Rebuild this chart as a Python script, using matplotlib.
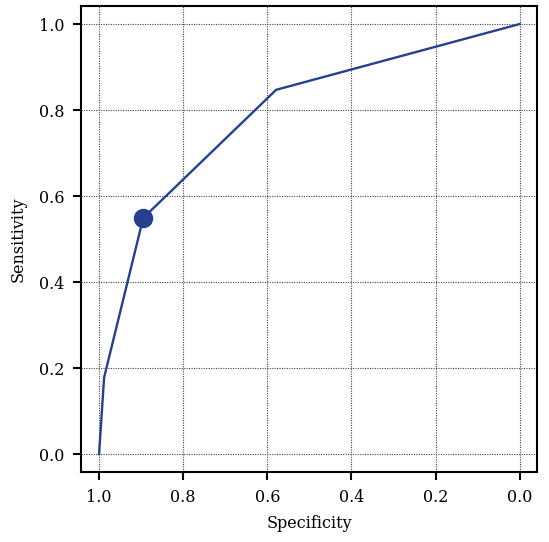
import matplotlib
matplotlib.use("Agg")
import matplotlib.pyplot as plt

specificity = [1.0, 0.988, 0.895, 0.579, 0.0]
sensitivity = [0.0, 0.178, 0.549, 0.847, 1.0]
best_spec = [0.895]
best_sens = [0.549]
ticks = [0.0, 0.2, 0.4, 0.6, 0.8, 1.0]
tick_labels = ["0.0", "0.2", "0.4", "0.6", "0.8", "1.0"]

plt.rcParams['font.family'] = ['DejaVu Serif']

fig = plt.figure(figsize=(5.49, 5.42), dpi=100)
ax = fig.add_axes([0.1475, 0.129, 0.978 - 0.1475, 0.989 - 0.129])

color = "#263f8f"
ax.plot(specificity, sensitivity, color=color, lw=1.7, zorder=3)
ax.plot(best_spec, best_sens, 'o', color=color, ms=13, zorder=4)

ax.set_xlim(1.043, -0.041)
ax.set_ylim(-0.042, 1.042)
ax.set_xticks(ticks)
ax.set_xticklabels(tick_labels)
ax.set_yticks(ticks)
ax.set_yticklabels(tick_labels)
ax.grid(True, linestyle=(0, (1, 1.2)), color="#444444", lw=0.8)
ax.set_axisbelow(True)
for s in ax.spines.values():
    s.set_linewidth(1.5)
ax.tick_params(direction='out', length=6, width=1.5, labelsize=11.5, pad=6)
ax.set_xlabel("Specificity", fontsize=11.5, labelpad=7)
ax.set_ylabel("Sensitivity", fontsize=11.5, labelpad=9)

fig.savefig("out.png", dpi=100)
